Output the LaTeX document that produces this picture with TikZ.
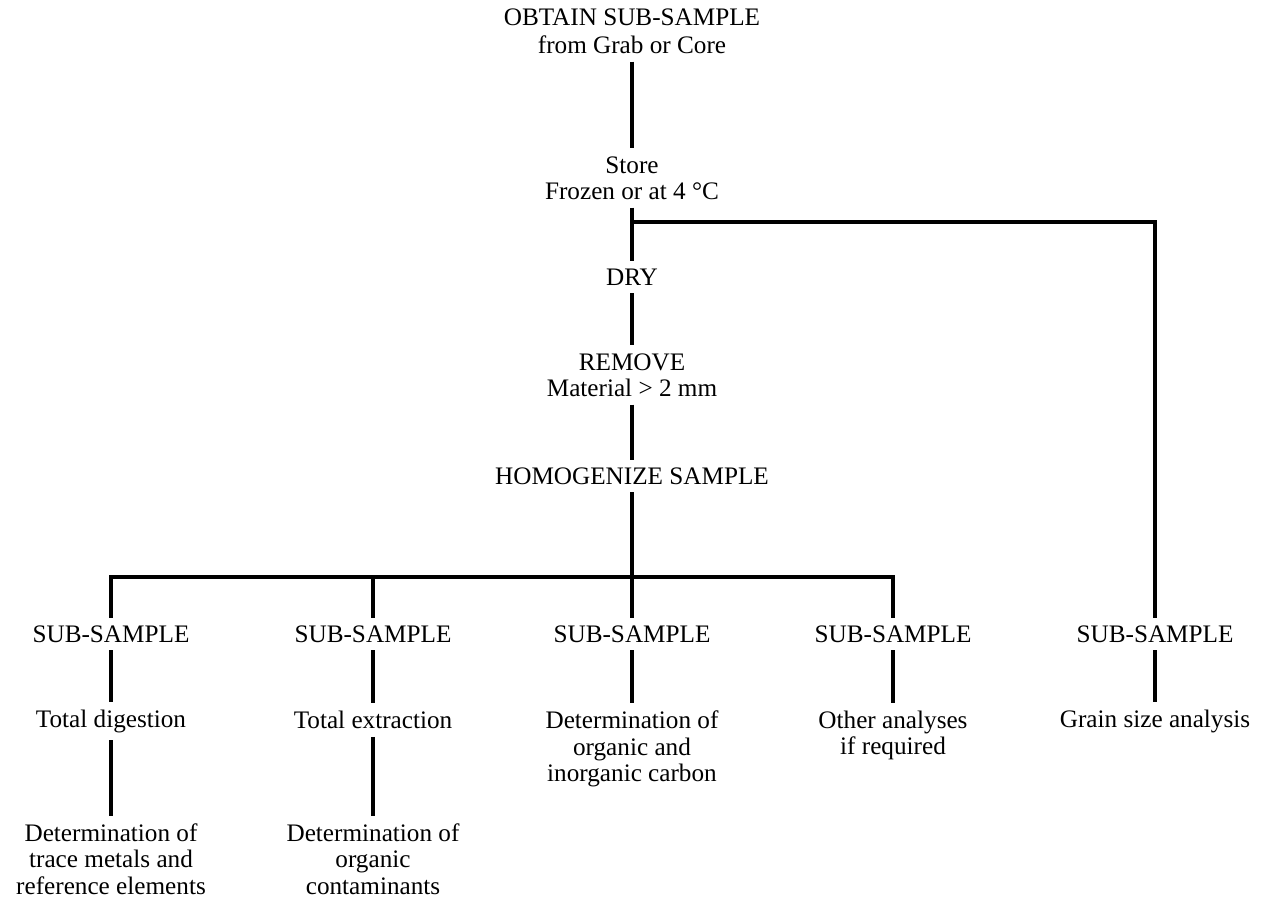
\documentclass[tikz,border=0pt]{standalone}
\usepackage{fontspec}
\setmainfont{Liberation Serif}
\begin{document}
\begin{tikzpicture}[x=0.5pt,y=-0.5pt,
  lbl/.style={align=center,inner xsep=0pt,inner ysep=4pt,outer sep=0pt,
    font=\fontsize{12.6}{13.2}\selectfont},
  conn/.style={line width=1.6pt,line join=miter}]
\useasboundingbox (0,0) rectangle (1262,901);
\node[lbl] (obtain) at (632,31) {OBTAIN SUB-SAMPLE\\[1pt]from Grab or Core};
\node[lbl] (store) at (632,178) {Store\\Frozen or at 4 °C};
\node[lbl] (dry) at (632,277) {DRY};
\node[lbl] (remove) at (632,375) {REMOVE\\Material > 2 mm};
\node[lbl] (homog) at (632,476) {HOMOGENIZE SAMPLE};
\node[lbl] (s1) at (111,634) {SUB-SAMPLE};
\node[lbl] (s2) at (373,634) {SUB-SAMPLE};
\node[lbl] (s3) at (632,634) {SUB-SAMPLE};
\node[lbl] (s4) at (893,634) {SUB-SAMPLE};
\node[lbl] (s5) at (1155,634) {SUB-SAMPLE};
\node[lbl] (t1) at (111,721) {Total digestion};
\node[lbl] (t2) at (373,720) {Total extraction};
\node[lbl,anchor=north] (t3) at (632,703) {Determination of\\organic and\\inorganic carbon};
\node[lbl,anchor=north] (t4) at (893,703) {Other analyses\\if required};
\node[lbl] (t5) at (1155,721) {Grain size analysis};
\node[lbl] (d1) at (111,859) {Determination of\\trace metals and\\reference elements};
\node[lbl] (d2) at (373,859) {Determination of\\organic\\contaminants};
\coordinate (sb) at (632,222);
\coordinate (hb) at (632,577);
\draw[conn] (obtain) -- (store);
\draw[conn] (store) -- (dry);
\draw[conn] (sb) -| (s5.north);
\draw[conn] (dry) -- (remove);
\draw[conn] (remove) -- (homog);
\draw[conn] (homog) -- (s3);
\draw[conn] (s1.north) |- (hb) -| (s4.north);
\draw[conn] (s2.north) -- (s2.north |- hb);
\draw[conn] (s1) -- (t1);
\draw[conn] (s2) -- (t2);
\draw[conn] (s3) -- (t3);
\draw[conn] (s4) -- (t4);
\draw[conn] (s5) -- (t5);
\draw[conn] (t1) -- (d1);
\draw[conn] (t2) -- (d2);
\end{tikzpicture}
\end{document}
